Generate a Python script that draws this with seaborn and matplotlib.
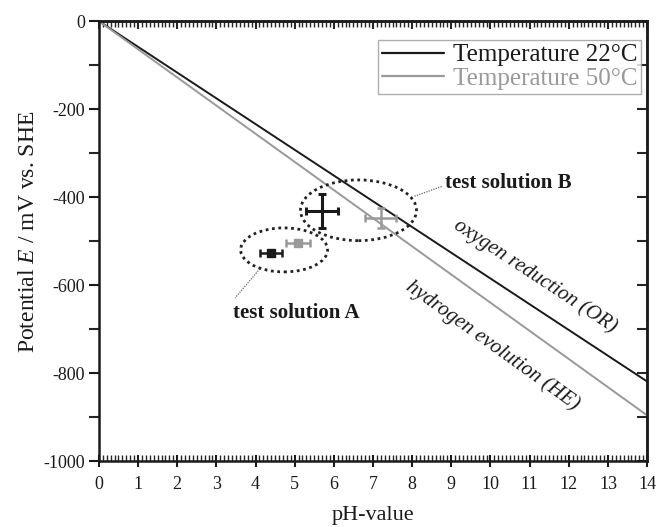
import numpy as np
import pandas as pd
import matplotlib
matplotlib.use("Agg")
import matplotlib.pyplot as plt
import seaborn as sns
from matplotlib.patches import Ellipse
from matplotlib.ticker import MultipleLocator

# ---- data ----
ph_line = [0, 14]
e_22 = [0, -819]
e_50 = [0, -896]
series_labels = ["Temperature 22°C", "Temperature 50°C"]

# measured points: [22°C, 50°C]
a_ph = [4.39, 5.09]
a_e = [-526, -505]
a_xerr = [0.28, 0.31]
a_yerr = [6, 6]

b_ph = [5.70, 7.20]
b_e = [-432, -448]
b_xerr = [0.40, 0.40]
b_yerr = [38, 23]

x_ticks = list(range(0, 15))
y_ticks = [0, -200, -400, -600, -800, -1000]

BLACK = "#1a1a1a"
GRAY = "#999999"

sns.set_theme(style="white")
plt.rcParams["font.family"] = ["Liberation Serif", "DejaVu Serif"]
plt.rcParams["mathtext.fontset"] = "custom"
plt.rcParams["mathtext.it"] = "Liberation Serif:italic"
plt.rcParams["mathtext.rm"] = "Liberation Serif"

fig = plt.figure(figsize=(6.59, 5.27), dpi=100)
ax = fig.add_axes([0.150, 0.125, 0.832, 0.835])

df = pd.DataFrame({
    "pH": ph_line * 2,
    "E": e_22 + e_50,
    "T": [series_labels[0]] * 2 + [series_labels[1]] * 2,
})
sns.lineplot(data=df, x="pH", y="E", hue="T", palette=[BLACK, GRAY],
             linewidth=1.4, ax=ax, legend=True)

# error bars
cols = [BLACK, GRAY]
for i in range(2):
    ax.errorbar(b_ph[i], b_e[i], xerr=b_xerr[i], yerr=b_yerr[i], fmt="none",
                ecolor=cols[i], elinewidth=2.2 if i == 0 else 1.8,
                capsize=3, capthick=2.2 if i == 0 else 1.8, zorder=5)
    ax.errorbar(a_ph[i], a_e[i], xerr=a_xerr[i], yerr=a_yerr[i], fmt="s",
                color=cols[i], ms=5.5, mec=cols[i],
                ecolor=cols[i], elinewidth=1.8, capsize=3, capthick=1.8, zorder=5)

# ellipses
ell_kw = dict(fill=False, edgecolor="#222222", linewidth=2.0,
              linestyle=(0, (1, 1.3)), zorder=4)
ax.add_patch(Ellipse((4.73, -520), 2.22, 100, **ell_kw))
ax.add_patch(Ellipse((6.63, -430), 2.96, 138, **ell_kw))

# leader lines
ax.plot([4.11, 3.48], [-563, -629], color="#666666", lw=0.9, ls=(0, (1, 1)))
ax.plot([8.06, 8.78], [-398, -375], color="#666666", lw=0.9, ls=(0, (1, 1)))

ax.text(5.03, -664, "test solution A", fontsize=15, fontweight="bold",
        ha="center", va="center", color=BLACK)
ax.text(8.83, -368, "test solution B", fontsize=15, fontweight="bold",
        ha="left", va="center", color=BLACK)

ax.text(11.15, -580, "oxygen reduction (OR)", fontsize=15, style="italic",
        rotation=-33.3, rotation_mode="anchor", ha="center", va="center",
        color=BLACK)
ax.text(10.05, -738, "hydrogen evolution (HE)", fontsize=15, style="italic",
        rotation=-35.6, rotation_mode="anchor", ha="center", va="center",
        color=BLACK)

ax.set_xlim(0, 14)
ax.set_ylim(-1000, 0)
ax.set_xticks(x_ticks)
ax.set_xticklabels([str(t) for t in x_ticks])
ax.set_yticks(y_ticks)
ax.set_yticklabels([str(t) for t in y_ticks])
ax.xaxis.set_minor_locator(MultipleLocator(0.1))
ax.yaxis.set_minor_locator(MultipleLocator(100))

ax.tick_params(axis="x", which="major", direction="inout", length=9, width=1.5,
               bottom=True, top=False, labelsize=13, pad=6, colors=BLACK)
ax.tick_params(axis="x", which="minor", direction="in", length=4, width=1.0,
               bottom=True, top=False)
ax.tick_params(axis="y", which="major", direction="out", length=7, width=1.5,
               left=True, right=False, labelsize=13, pad=3, colors=BLACK)
ax.tick_params(axis="y", which="minor", direction="out", length=7, width=1.5,
               left=True, right=False)

top = ax.secondary_xaxis("top")
top.set_xticks(x_ticks)
top.xaxis.set_minor_locator(MultipleLocator(0.1))
top.tick_params(which="major", direction="in", length=6, width=1.5, labeltop=False)
top.tick_params(which="minor", direction="in", length=4, width=1.0)
top.spines["top"].set_linewidth(1.8)

right = ax.secondary_yaxis("right")
right.set_yticks([-100 * k for k in range(11)])
right.tick_params(which="major", direction="in", length=7, width=1.5, labelright=False)

for s in ax.spines.values():
    s.set_linewidth(1.8)
    s.set_color(BLACK)
    s.set_visible(True)
right.spines["right"].set_linewidth(1.8)

ax.set_xlabel("pH-value", fontsize=16, color=BLACK, va="center")
ax.xaxis.set_label_coords(0.5, -0.123)
ax.set_ylabel("Potential $E$ / mV vs. SHE", fontsize=17, color=BLACK, va="center")
ax.yaxis.set_label_coords(-0.128, 0.52)

leg = ax.legend(loc="upper right", bbox_to_anchor=(0.9985, 0.968), fontsize=18,
                frameon=True, fancybox=False, edgecolor="#999999",
                handlelength=2.5, handletextpad=0.35, borderpad=0.15,
                labelspacing=0.05, borderaxespad=0.2)
leg.get_frame().set_linewidth(1.0)
for t, c in zip(leg.get_texts(), cols):
    t.set_color(c)
for l in leg.get_lines():
    l.set_linewidth(1.6)

fig.savefig("out.png", dpi=100)
